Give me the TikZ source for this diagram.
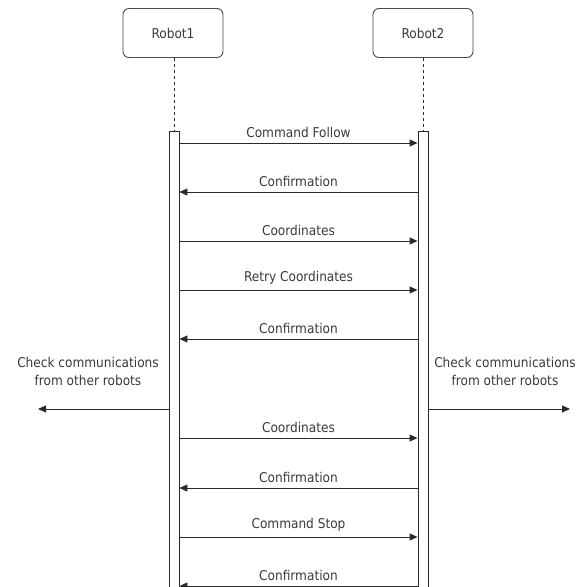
\documentclass[tikz,border=0pt]{standalone}
\usepackage{fontspec}
\setmainfont{DejaVu Sans Condensed}
\usetikzlibrary{arrows.meta,calc}
\definecolor{ink}{HTML}{2A2A2A}
\definecolor{txt}{HTML}{3A3A3A}
\tikzset{
  robotbox/.style={draw=ink!85, rounded corners=6pt, minimum width=100pt, minimum height=49pt, line width=0.9pt, font=\fontsize{13.5}{16}\selectfont, text=txt},
  actbar/.style={draw=ink, fill=white, minimum width=10pt, line width=0.9pt, anchor=north, inner sep=0pt},
  msg/.style={draw=ink, line width=0.9pt, -{Triangle[length=8pt,width=7pt]}},
  lbl/.style={font=\fontsize{13.5}{16}\selectfont, text=txt, inner sep=1pt},
}
\begin{document}
\begin{tikzpicture}[x=1pt,y=-1pt]
\useasboundingbox (0,0) rectangle (582,587);
\node[robotbox] (r1) at (173,33) {Robot1};
\node[robotbox] (r2) at (423,33) {Robot2};
\node[actbar, minimum height=480pt] (bar1) at (174,131) {};
\node[actbar, minimum height=480pt] (bar2) at (423,131) {};
\draw[dashed, ink, line width=0.6pt] (r1.south -| bar1.north) -- (bar1.north);
\draw[dashed, ink, line width=0.6pt] (r2.south -| bar2.north) -- (bar2.north);
% right-going messages
\foreach \y/\t [count=\i] in {143/Command Follow, 241/Coordinates, 290/Retry Coordinates, 438/Coordinates, 537/Command Stop}{
  \coordinate (rm\i) at (0,\y);
  \draw[msg] (bar1.east |- rm\i) -- node[lbl, above=4pt] {\t} (bar2.west |- rm\i);
}
% left-going messages
\foreach \y/\t [count=\i] in {192/Confirmation, 339/Confirmation, 488/Confirmation, 586/Confirmation}{
  \coordinate (lm\i) at (0,\y);
  \draw[msg] (bar2.west |- lm\i) -- node[lbl, above=4pt] {\t} (bar1.east |- lm\i);
}
\coordinate (lend) at (38,409);
\coordinate (rend) at (570,409);
\draw[msg] (bar1.west |- lend) -- (lend);
\draw[msg] (bar2.east |- rend) -- (rend);
\node[lbl, align=center, font=\fontsize{13.5}{18}\selectfont] (lt) at (88,371) {Check communications\\from other robots};
\node[lbl, align=center, font=\fontsize{13.5}{18}\selectfont] (rt) at (505,371) {Check communications\\from other robots};
\end{tikzpicture}
\end{document}
